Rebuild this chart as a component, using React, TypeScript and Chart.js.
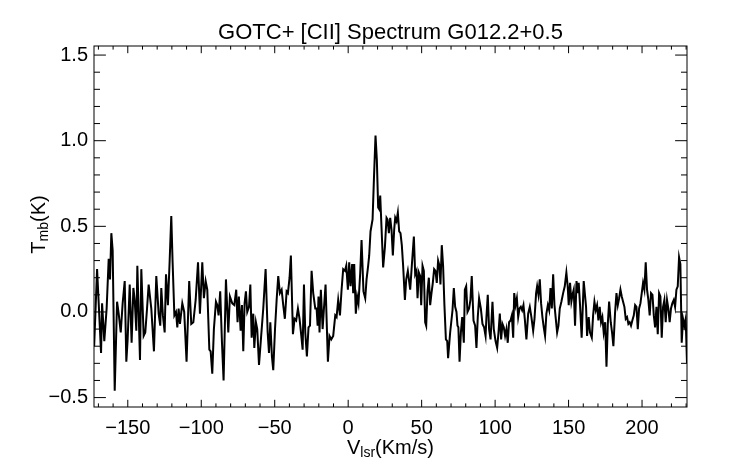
import { useEffect, useRef } from "react";
import { Chart, registerables } from "chart.js";

Chart.register(...registerables);

const TITLE = "GOTC+ [CII] Spectrum G012.2+0.5";

// velocity channels (km/s)
const VELOCITY = [
  -172.9, -170.9, -168.2, -167.5, -166.0, -164.4, -163.0, -162.1, -161.2, -160.3,
  -158.9, -157.3, -156.2, -154.8, -153.5, -152.1, -151.0, -150.1, -148.7, -147.4,
  -146.2, -145.3, -144.2, -143.5, -141.7, -140.8, -139.2, -138.1, -136.9, -135.8,
  -134.0, -132.2, -130.6, -129.0, -127.9, -127.2, -126.1, -124.9, -124.0, -122.7,
  -121.5, -120.4, -119.5, -118.3, -117.2, -116.3, -115.4, -114.5, -112.9, -111.6,
  -110.0, -108.2, -106.8,
  -105.4, -103.8, -102.2, -100.9, -99.3, -98.2, -97.0, -95.9, -94.5, -93.6,
  -92.5, -91.4, -90.0, -89.1, -88.2, -87.1, -85.9, -84.8, -83.2, -81.6,
  -80.5, -78.9, -77.5, -76.2, -75.3, -74.4, -73.2, -72.3, -71.4, -70.5,
  -69.6, -68.7, -67.5, -66.6, -65.7, -64.6, -63.9, -62.8, -61.9, -60.7,
  -59.4, -57.8, -56.2, -54.8, -53.9, -53.0, -51.9, -51.0, -49.8, -48.7,
  -47.6, -46.5, -45.3, -44.2, -43.1, -41.9, -41.0, -39.9, -39.0,
  -37.6, -36.5, -35.4, -34.2, -33.1, -31.9, -31.0, -30.1, -29.2, -28.1,
  -27.0, -26.0, -24.9, -23.8, -22.4, -21.5, -20.8, -20.2, -19.5, -18.6,
  -17.4, -16.5, -15.4, -13.8, -12.7, -11.5, -10.2, -8.8, -7.9, -6.8,
  -5.6, -4.5, -3.4, -2.2, -1.3, -0.2, 0.7, 1.6, 2.7, 3.4,
  4.1, 5.2, 6.1, 7.0, 8.2, 9.1, 10.4, 11.6, 12.5, 13.6,
  14.3, 15.2, 16.6, 17.5, 18.6, 19.5, 20.4, 21.1, 21.8, 22.7,
  23.8, 25.0, 26.1, 26.8,
  27.7, 28.6, 29.5, 30.4, 31.3, 32.0, 32.9, 33.8, 34.7, 35.6,
  36.5, 37.4, 38.6, 39.5, 40.6, 42.2, 43.3, 44.7, 45.6, 46.5,
  47.2, 48.1, 49.0, 49.7, 50.6, 51.5, 52.4, 53.1, 54.0, 54.9,
  55.8, 56.7, 57.6, 58.5, 59.4, 60.3, 61.2, 62.1, 62.8, 63.7,
  64.6, 65.5, 66.5, 67.4, 68.0, 69.4, 71.0, 71.9, 72.8, 73.7,
  74.4, 75.0, 75.8, 76.7, 77.6, 78.7, 79.4, 80.3, 81.2, 82.3,
  83.2, 84.1, 85.3, 86.4, 87.3, 88.2, 89.1, 90.3, 91.4, 92.5,
  93.5,
  94.1, 95.0, 95.9, 96.9, 98.2, 99.1, 100.3, 101.4, 102.3, 103.2,
  104.1, 105.0, 105.9, 106.8, 107.7, 108.6, 109.5, 110.5, 111.4, 112.3,
  113.0, 113.9, 114.8, 115.7, 116.6, 117.5, 118.4, 119.3, 120.2, 121.3,
  122.5, 123.6, 124.7, 125.9, 126.8, 127.9, 128.6, 129.5, 130.4, 131.3,
  132.2, 133.1, 134.0, 134.9, 135.9, 136.8, 137.7, 138.6, 139.5, 140.4,
  141.3, 142.2, 143.1, 144.0, 145.1, 146.3, 147.4, 148.5, 149.4, 150.1,
  151.0, 151.9, 152.9, 153.5, 154.4, 155.4, 156.3, 156.9, 157.8, 158.9,
  160.3,
  161.9, 162.6, 163.7, 164.6, 165.8, 166.7, 167.6, 168.5, 169.4, 170.3,
  171.2, 172.1, 173.0, 173.9, 174.9, 175.8, 176.7, 177.6, 178.7, 179.6,
  180.5, 181.6, 182.6, 183.5, 184.4, 185.3, 186.2, 187.1, 188.0, 188.9,
  189.8, 190.7, 191.6, 192.5, 193.4, 194.4, 195.3, 196.2, 197.1, 198.0,
  198.9, 199.8, 200.7, 201.6, 202.5, 203.4, 204.3, 205.2, 206.1, 207.1,
  208.0, 208.9, 209.8, 210.7, 211.6, 212.5, 213.4, 214.3, 215.2, 216.1,
  217.0, 217.9, 218.8, 219.7, 220.6, 221.6, 222.5, 223.4, 224.3, 225.2,
  226.1, 227.0, 227.9, 228.8, 229.7, 230.6,
];

// main-beam temperature (K)
const TEMPERATURE = [
  -0.2, 0.25, -0.24, 0.05, -0.17, 0.02, 0.31, 0.19, 0.46, 0.36,
  -0.46, 0.06, -0.01, -0.12, 0.05, 0.18, -0.29, -0.16, 0.16, -0.18,
  0.14, 0.07, -0.11, 0.27, -0.28, 0.25, -0.14, -0.12, 0.02, 0.16,
  0.02, -0.23, 0.21, -0.01, -0.08, 0.14, -0.02, -0.12, 0.22, 0.04,
  0.3, 0.56, 0.29, -0.02, 0.0, -0.09, 0.02, -0.07, 0.05, 0.0,
  -0.29, 0.18, -0.07,
  -0.06, 0.07, 0.29, -0.01, 0.29, 0.08, 0.18, 0.13, -0.22, -0.23,
  -0.36, -0.1, 0.06, 0.04, -0.02, 0.12, -0.18, -0.4, 0.19, -0.12,
  0.09, 0.05, 0.04, 0.13, -0.06, 0.09, -0.11, 0.04, -0.23, 0.05,
  0.12, 0.0, 0.03, 0.16, -0.15, -0.01, -0.21, -0.06, -0.1, -0.31,
  -0.16, 0.02, 0.25, -0.12, -0.24, -0.06, -0.26, -0.34, -0.1, 0.07,
  0.21, 0.11, 0.13, 0.04, -0.04, 0.12, 0.11, 0.2, 0.33,
  -0.13, -0.04, -0.05, 0.02, -0.04, -0.14, -0.22, 0.16, -0.12, -0.26,
  -0.09, -0.08, 0.24, 0.11, 0.02, 0.02, -0.08, 0.09, -0.12, 0.13,
  -0.1, 0.02, 0.16, -0.29, -0.14, -0.16, -0.14, -0.02, -0.03, 0.07,
  -0.02, 0.13, 0.25, 0.24, 0.27, 0.13, 0.29, 0.15, 0.28, 0.11,
  0.28, -0.01, 0.09, 0.05, 0.23, 0.42, 0.12, 0.08, 0.19, 0.27,
  0.33, 0.47, 0.54, 0.77, 1.03, 0.89, 0.61, 0.6, 0.68, 0.49,
  0.26, 0.38, 0.55, 0.54,
  0.46, 0.55, 0.48, 0.33, 0.48, 0.55, 0.53, 0.58, 0.47, 0.46,
  0.39, 0.27, 0.07, 0.19, 0.24, 0.13, 0.27, 0.44, 0.22, 0.24,
  0.08, 0.23, 0.21, 0.04, 0.27, 0.24, -0.06, -0.08, 0.12, 0.2,
  0.04, 0.11, 0.17, 0.25, 0.24, 0.17, 0.3, 0.27, 0.16, 0.39,
  0.27, 0.04, -0.16, -0.17, -0.27, -0.12, 0.01, 0.14, 0.03, 0.0,
  -0.08, -0.09, -0.29, -0.12, -0.03, -0.18, 0.13, 0.15, 0.0, 0.02,
  0.07, 0.21, -0.05, -0.08, -0.21, -0.03, 0.08, 0.02, -0.07, -0.09,
  -0.14,
  -0.03, 0.1, -0.1, -0.16, 0.06, -0.1, -0.17, -0.21, -0.12, -0.01,
  -0.16, -0.07, -0.09, -0.14, -0.1, -0.18, -0.06, -0.05, -0.02, -0.15,
  0.11, 0.04, 0.08, -0.03, 0.02, 0.03, 0.01, 0.04, -0.04, -0.16,
  -0.01, 0.03, -0.03, -0.11, -0.04, 0.11, 0.15, 0.1, 0.19, 0.05,
  -0.03, -0.09, -0.14, -0.01, 0.04, 0.01, 0.14, 0.02, 0.22, 0.04,
  -0.04, -0.12, -0.08, 0.02, 0.06, 0.11, 0.15, 0.23, 0.15, 0.04,
  0.17, 0.06, 0.11, 0.13, -0.08, 0.18, 0.11, 0.17, 0.04, -0.15,
  0.18,
  0.03, -0.14, -0.03, -0.12, -0.15, -0.02, 0.06, 0.01, 0.04, -0.05,
  0.03, -0.06, -0.03, -0.12, -0.06, -0.32, -0.07, 0.06, -0.06, -0.12,
  -0.2, -0.01, 0.11, 0.04, 0.08, 0.13, 0.09, 0.06, 0.03, -0.04,
  -0.03, -0.07, -0.06, -0.08, -0.05, -0.02, 0.04, 0.03, -0.1, 0.02,
  0.05, 0.11, 0.17, 0.13, 0.29, 0.13, 0.07, -0.02, 0.11, 0.1,
  -0.02, -0.09, 0.03, -0.13, 0.11, 0.09, -0.15, 0.03, 0.07, -0.06,
  0.07, 0.02, -0.06, 0.02, 0.05, 0.07, 0.03, 0.13, 0.15, 0.32,
  0.28, -0.18, -0.04, -0.08, -0.04, -0.3,
];

const X_MIN = -173;
const X_MAX = 230.6;
const Y_MIN = -0.555;
const Y_MAX = 1.553;
const X_MAJOR_STEP = 50;
const X_MINOR_STEP = 10;
const Y_MAJOR_STEP = 0.5;
const Y_MINOR_STEP = 0.1;

const FONT = "'Liberation Sans', Arial, Helvetica, sans-serif";

const minus = (s: string) => s.replace("-", "\u2212");

const decorPlugin = {
  id: "idlDecor",
  afterDraw(chart: any) {
    const { ctx, chartArea: a, scales } = chart;
    const xs = scales.x;
    const ys = scales.y;
    ctx.save();
    ctx.strokeStyle = "#000";
    ctx.lineWidth = 1;
    ctx.strokeRect(a.left, a.top, a.right - a.left, a.bottom - a.top);

    ctx.beginPath();
    const xFirst = Math.ceil(X_MIN / X_MINOR_STEP);
    const xLast = Math.floor(X_MAX / X_MINOR_STEP);
    const perMajorX = Math.round(X_MAJOR_STEP / X_MINOR_STEP);
    for (let i = xFirst; i <= xLast; i++) {
      const px = xs.getPixelForValue(i * X_MINOR_STEP);
      const len = i % perMajorX === 0 ? 7.2 : 3.6;
      ctx.moveTo(px, a.bottom);
      ctx.lineTo(px, a.bottom - len);
      ctx.moveTo(px, a.top);
      ctx.lineTo(px, a.top + len);
    }
    const yFirst = Math.ceil(Y_MIN / Y_MINOR_STEP - 1e-9);
    const yLast = Math.floor(Y_MAX / Y_MINOR_STEP + 1e-9);
    const perMajorY = Math.round(Y_MAJOR_STEP / Y_MINOR_STEP);
    for (let i = yFirst; i <= yLast; i++) {
      const py = ys.getPixelForValue(i * Y_MINOR_STEP);
      const len = i % perMajorY === 0 ? 11.9 : 6;
      ctx.moveTo(a.left, py);
      ctx.lineTo(a.left + len, py);
      ctx.moveTo(a.right, py);
      ctx.lineTo(a.right - len, py);
    }
    ctx.stroke();

    ctx.fillStyle = "#000";
    ctx.textBaseline = "alphabetic";
    const cx = (a.left + a.right) / 2;

    // title
    ctx.font = `22px ${FONT}`;
    ctx.textAlign = "center";
    ctx.fillText(TITLE, cx, 39);

    // x axis title: V_lsr(Km/s)
    ctx.textAlign = "left";
    const big = `20px ${FONT}`;
    const small = `14px ${FONT}`;
    ctx.font = big;
    const wV = ctx.measureText("V").width;
    const wRest = ctx.measureText("(Km/s)").width;
    ctx.font = small;
    const wSub = ctx.measureText("lsr").width;
    let sx = cx - (wV + wSub + wRest) / 2;
    const base = 454;
    ctx.font = big;
    ctx.fillText("V", sx, base);
    sx += wV;
    ctx.font = small;
    ctx.fillText("lsr", sx, base + 3);
    sx += wSub;
    ctx.font = big;
    ctx.fillText("(Km/s)", sx, base);

    // y axis title: T_mb(K)
    ctx.save();
    const cy = (a.top + a.bottom) / 2 - 2;
    ctx.translate(45, cy);
    ctx.rotate(-Math.PI / 2);
    ctx.font = big;
    const wT = ctx.measureText("T").width;
    const wK = ctx.measureText("(K)").width;
    ctx.font = small;
    const wMb = ctx.measureText("mb").width;
    let u = -(wT + wMb + wK) / 2;
    ctx.font = big;
    ctx.fillText("T", u, 0);
    u += wT;
    ctx.font = small;
    ctx.fillText("mb", u, 3);
    u += wMb;
    ctx.font = big;
    ctx.fillText("(K)", u, 0);
    ctx.restore();

    ctx.restore();
  },
};

export default function App() {
  const ref = useRef<HTMLCanvasElement | null>(null);

  useEffect(() => {
    if (!ref.current) return;
    const points = VELOCITY.map((v, i) => ({ x: v, y: TEMPERATURE[i] }));
    const chart = new Chart(ref.current, {
      type: "line",
      data: {
        datasets: [
          {
            data: points,
            borderColor: "#000",
            borderWidth: 2,
            pointRadius: 0,
            tension: 0,
            fill: false,
          },
        ],
      },
      options: {
        responsive: false,
        animation: false,
        layout: { padding: { left: 0, right: 55, top: 46, bottom: 0 } },
        plugins: {
          legend: { display: false },
          title: { display: false },
          tooltip: { enabled: false },
        },
        scales: {
          x: {
            type: "linear",
            min: X_MIN,
            max: X_MAX,
            afterFit(s: any) {
              s.height = 57;
            },
            grid: { display: false, drawTicks: false },
            border: { display: false },
            ticks: {
              stepSize: X_MAJOR_STEP,
              includeBounds: false,
              autoSkip: false,
              maxRotation: 0,
              padding: 9,
              color: "#000",
              font: { family: FONT, size: 20 },
              callback: (v: any) => minus(String(v)),
            },
          },
          y: {
            type: "linear",
            min: Y_MIN,
            max: Y_MAX,
            afterFit(s: any) {
              s.width = 94;
            },
            grid: { display: false, drawTicks: false },
            border: { display: false },
            ticks: {
              stepSize: Y_MAJOR_STEP,
              includeBounds: false,
              autoSkip: false,
              padding: 6,
              color: "#000",
              font: { family: FONT, size: 20 },
              callback: (v: any) => minus(Number(v).toFixed(1)),
            },
          },
        },
      },
      plugins: [decorPlugin],
    });
    return () => chart.destroy();
  }, []);

  return (
    <div
      style={{
        position: "fixed",
        left: 0,
        top: 0,
        width: 742,
        height: 464,
        background: "#fff",
      }}
    >
      <canvas ref={ref} width={742} height={464} />
    </div>
  );
}
